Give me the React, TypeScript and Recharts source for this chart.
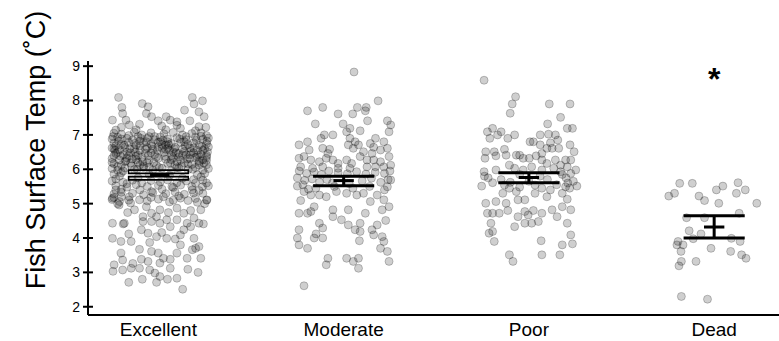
import { ScatterChart, Scatter, XAxis, YAxis, ReferenceLine, ReferenceArea } from "recharts";

const groups = ["Excellent", "Moderate", "Poor", "Dead"];
const yTicks = [2, 3, 4, 5, 6, 7, 8, 9];

// [jitter, temp]
const excellentPts: [number, number][] = [
    [-0.215, 8.09], [0.183, 8.09], [0.238, 7.99], [0.192, 7.9], [-0.197, 7.8], [-0.087, 7.91], [-0.056, 7.82], [0.141, 7.72],
    [0.219, 7.67], [0.247, 7.53], [-0.248, 7.43], [-0.193, 7.62], [-0.175, 7.43], [-0.065, 7.62], [-0.037, 7.53], [-0.001, 7.41],
    [0.042, 7.53], [0.064, 7.43], [0.1, 7.38], [0.17, 7.41], [0.219, 7.24], [0.256, 7.22], [-0.157, 7.29], [-0.102, 7.31],
    [0.119, 7.19], [0.018, 7.26], [-0.23, 7.14],
    [-0.24, 7.05], [-0.2, 7.02], [-0.13, 7.08], [-0.09, 7.0], [-0.04, 7.06], [0.03, 7.03], [0.08, 7.07], [0.13, 7.0], [0.18, 7.04], [0.23, 7.06], [0.26, 6.98],
    [-0.25, 6.88], [-0.22, 6.93], [-0.17, 6.9], [-0.14, 6.85], [-0.11, 6.95], [-0.06, 6.9], [-0.02, 6.86], [0.01, 6.94], [0.05, 6.88], [0.1, 6.92], [0.15, 6.86], [0.2, 6.93], [0.24, 6.87], [0.27, 6.91],
    [-0.24, 6.76], [-0.2, 6.72], [-0.16, 6.78], [-0.12, 6.7], [-0.08, 6.77], [-0.04, 6.73], [0.0, 6.79], [0.04, 6.71], [0.07, 6.75], [0.12, 6.78], [0.16, 6.72], [0.19, 6.77], [0.22, 6.7], [0.26, 6.74],
    [-0.25, 6.62], [-0.21, 6.57], [-0.18, 6.64], [-0.13, 6.6], [-0.1, 6.55], [-0.06, 6.63], [-0.03, 6.58], [0.02, 6.61], [0.06, 6.56], [0.09, 6.64], [0.13, 6.59], [0.17, 6.62], [0.21, 6.55], [0.25, 6.6], [0.27, 6.65],
    [-0.23, 6.46], [-0.19, 6.42], [-0.15, 6.48], [-0.11, 6.41], [-0.07, 6.47], [-0.02, 6.43], [0.03, 6.49], [0.07, 6.4], [0.11, 6.46], [0.15, 6.42], [0.19, 6.48], [0.23, 6.44], [0.26, 6.4],
    [-0.25, 6.31], [-0.21, 6.27], [-0.17, 6.33], [-0.12, 6.28], [-0.09, 6.35], [-0.05, 6.26], [0.0, 6.32], [0.04, 6.29], [0.08, 6.34], [0.12, 6.27], [0.17, 6.31], [0.21, 6.36], [0.24, 6.28],
    [-0.24, 6.16], [-0.2, 6.12], [-0.15, 6.18], [-0.1, 6.13], [-0.06, 6.19], [-0.01, 6.11], [0.05, 6.17], [0.09, 6.12], [0.14, 6.18], [0.18, 6.14], [0.22, 6.2], [0.26, 6.13],
    [-0.25, 6.02], [-0.22, 5.97], [-0.18, 6.04], [-0.13, 5.99], [-0.08, 6.05], [-0.03, 5.98], [0.02, 6.03], [0.07, 5.96], [0.11, 6.04], [0.16, 5.99], [0.2, 6.05], [0.24, 5.97], [0.27, 6.02],
    [-0.24, 5.86], [-0.21, 5.8], [-0.2, 5.9], [0.21, 5.84], [0.25, 5.88], [0.23, 5.78], [-0.05, 5.85], [0.06, 5.82],
    [-0.25, 5.66], [-0.19, 5.62], [-0.14, 5.68], [-0.09, 5.6], [-0.04, 5.67], [0.01, 5.63], [0.05, 5.69], [0.1, 5.61], [0.15, 5.66], [0.2, 5.6], [0.24, 5.68],
    [-0.23, 5.52], [-0.17, 5.48], [-0.12, 5.55], [-0.06, 5.5], [0.0, 5.53], [0.08, 5.47], [0.12, 5.54], [0.18, 5.5], [0.27, 5.52],
    [-0.24, 5.28], [-0.2, 5.33], [-0.14, 5.3], [-0.08, 5.26], [-0.03, 5.32], [0.04, 5.29], [0.09, 5.34], [0.14, 5.27], [0.19, 5.31], [0.24, 5.3],
    [-0.25, 5.12], [-0.21, 5.06], [-0.16, 5.1], [-0.06, 5.08], [0.0, 5.13], [0.06, 5.05], [0.16, 5.09], [0.21, 5.04], [0.26, 5.1],
    [-0.23, 6.68], [-0.22, 6.5], [-0.24, 6.4], [-0.05, 6.95], [-0.1, 6.82], [0.0, 6.65], [0.05, 6.8], [0.15, 6.95], [0.24, 6.55], [0.26, 6.35],
    [0.22, 6.25], [-0.18, 6.22], [-0.12, 6.38], [0.1, 6.22], [0.14, 6.52], [-0.16, 6.98], [-0.24, 5.18], [-0.22, 5.0], [0.25, 5.0], [-0.2, 5.42],
    // second pass over the darkest band
    [-0.245, 6.95], [-0.215, 6.82], [-0.185, 6.7], [-0.155, 6.6], [-0.125, 6.5], [-0.095, 6.9], [-0.065, 6.8], [-0.035, 6.68], [-0.005, 6.55], [0.025, 6.85],
    [0.055, 6.72], [0.085, 6.6], [0.115, 6.88], [0.145, 6.68], [0.175, 6.52], [0.205, 6.84], [0.235, 6.66], [0.262, 6.82], [-0.235, 6.55], [-0.205, 6.38],
    [-0.175, 6.25], [-0.145, 6.1], [-0.115, 6.0], [-0.085, 6.22], [-0.055, 6.4], [-0.025, 6.2], [0.005, 6.05], [0.035, 6.38], [0.065, 6.18], [0.095, 6.48],
    [0.125, 6.1], [0.155, 6.3], [0.185, 6.0], [0.215, 6.42], [0.245, 6.18], [0.265, 6.5], [-0.25, 6.2], [-0.22, 6.08], [-0.19, 5.95], [-0.16, 6.4],
    [-0.13, 6.75], [-0.1, 6.68], [-0.07, 6.58], [-0.04, 6.48], [-0.01, 6.36], [0.02, 6.72], [0.05, 6.62], [0.08, 6.5], [0.11, 6.36], [0.14, 6.8],
    [0.17, 6.42], [0.2, 6.34], [0.23, 6.96], [0.26, 6.26], [-0.24, 6.6], [-0.2, 6.88], [-0.17, 6.5], [-0.14, 6.3], [-0.11, 6.2], [-0.08, 6.1],
    [-0.05, 6.06], [-0.02, 6.95], [0.01, 6.8], [0.04, 6.58], [0.07, 6.28], [0.1, 6.05], [0.13, 6.42], [0.16, 6.15], [0.19, 6.62], [0.22, 6.12],
    [-0.23, 5.72], [-0.17, 5.58], [-0.11, 5.75], [0.13, 5.74], [0.19, 5.7], [0.26, 5.6], [-0.2, 5.2], [-0.1, 5.4], [0.02, 5.42], [0.11, 5.22],
    [0.2, 5.15], [-0.15, 5.02], [-0.04, 5.18], [0.08, 5.1], [0.22, 5.38], [-0.12, 7.15], [0.04, 7.15], [0.2, 7.12], [-0.2, 7.22], [0.1, 7.28],
    [-0.166, 4.74], [-0.129, 4.82], [-0.065, 4.91], [-0.037, 4.72], [0.008, 4.82], [0.054, 4.74], [0.1, 4.87], [0.137, 4.72], [0.174, 4.8],
    [0.229, 4.82], [0.262, 5.11], [-0.212, 4.96], [-0.248, 5.16], [-0.23, 5.4], [-0.157, 5.2], [-0.102, 5.11], [-0.037, 5.35], [0.027, 5.2],
    [0.073, 5.49], [0.119, 5.16], [0.183, 5.4], [0.238, 5.49],
    [-0.184, 4.43], [-0.083, 4.48], [-0.037, 4.48], [0.045, 4.53], [0.1, 4.53], [0.155, 4.43], [0.008, 4.43], [-0.083, 4.62], [-0.01, 4.62],
    [0.064, 4.33], [0.137, 4.24], [0.192, 4.58], [-0.248, 4.43], [-0.19, 4.41], [-0.248, 3.99], [-0.16, 4.12], [-0.202, 3.9], [-0.147, 3.9],
    [-0.102, 3.67], [-0.092, 4.24], [-0.056, 4.14], [-0.047, 3.87], [-0.01, 4.04], [0.018, 4.16], [0.045, 3.99], [0.091, 3.97], [0.119, 4.09],
    [0.174, 4.33], [0.219, 4.43], [0.243, 4.41], [0.192, 3.99], [0.219, 3.75], [0.229, 3.41], [0.201, 3.7], [-0.202, 3.56], [-0.239, 3.22],
    [-0.245, 3.03], [-0.193, 3.07], [-0.138, 3.26], [-0.147, 3.12], [-0.092, 3.38], [-0.056, 3.32], [-0.037, 3.61], [-0.001, 3.56], [0.027, 3.41],
    [0.064, 3.38], [0.1, 3.56], [0.119, 3.8], [0.155, 3.41], [0.183, 3.66], [-0.16, 2.71], [-0.087, 2.8], [-0.01, 2.71], [-0.019, 2.98],
    [0.049, 2.8], [0.1, 2.83], [0.131, 2.51], [0.159, 3.09], [0.214, 3.0], [-0.047, 3.07], [0.008, 2.88], [-0.102, 3.12], [0.008, 3.27],
    [0.064, 3.12], [-0.193, 3.36],
];

const moderatePts: [number, number][] = [
    [0.056, 8.83], [0.186, 7.99], [-0.195, 7.7], [-0.113, 7.8], [-0.03, 7.61], [0.049, 7.61], [0.074, 7.8], [0.122, 7.8], [0.117, 7.7],
    [0.129, 7.41], [-0.153, 7.32], [-0.003, 7.32], [0.034, 7.19], [0.016, 7.09], [0.089, 7.12], [0.236, 7.41], [0.254, 7.29], [0.245, 7.09],
    [-0.104, 7.0], [-0.058, 7.0], [-0.122, 6.9], [-0.195, 6.8], [-0.241, 6.71], [0.034, 6.9], [0.062, 6.8], [0.08, 6.71], [0.172, 6.9],
    [0.217, 6.8], [0.144, 6.75], [0.162, 6.64], [-0.186, 6.56], [-0.113, 6.61], [-0.076, 6.58], [-0.085, 6.46], [0.025, 6.71], [0.052, 6.61],
    [0.107, 6.51], [0.153, 6.46], [0.199, 6.56], [0.236, 6.61], [-0.241, 6.32], [-0.214, 6.37], [-0.177, 6.27], [-0.131, 6.22], [-0.094, 6.32],
    [-0.058, 6.27], [-0.03, 6.17], [0.016, 6.27], [0.043, 6.17], [0.089, 6.37], [0.126, 6.27], [0.162, 6.27], [0.199, 6.22], [0.245, 6.37],
    [-0.232, 6.07], [-0.168, 6.03], [-0.113, 6.07], [-0.03, 6.03], [0.034, 6.03], [0.126, 6.07], [0.172, 6.07], [0.217, 6.07], [0.254, 6.12],
    [-0.25, 5.51], [-0.214, 5.35], [-0.177, 5.25], [-0.131, 5.25], [-0.094, 5.2], [-0.039, 5.35], [0.016, 5.3], [0.071, 5.25], [0.107, 5.3],
    [0.144, 5.06], [0.181, 5.25], [0.236, 5.49], [0.254, 5.69], [0.217, 5.11], [-0.232, 5.09], [-0.241, 4.72], [-0.195, 4.72], [-0.159, 4.91],
    [-0.177, 4.77], [-0.058, 4.82], [-0.058, 4.62], [0.025, 4.82], [0.117, 4.72], [0.208, 4.82], [0.245, 4.91], [-0.012, 4.53], [0.025, 4.38],
    [0.089, 4.43], [-0.131, 4.43], [-0.113, 4.29], [0.062, 4.24], [0.089, 4.19], [0.153, 4.24], [0.181, 4.38], [0.227, 4.51], [0.162, 4.09],
    [0.208, 4.04], [-0.241, 4.24], [-0.25, 4.0], [-0.241, 3.8], [-0.195, 3.7], [-0.159, 4.0], [-0.113, 4.0], [-0.149, 4.12], [0.085, 3.92],
    [0.217, 3.9], [0.199, 3.7], [0.236, 3.61], [-0.085, 3.41], [-0.094, 3.22], [0.016, 3.41], [0.052, 3.32], [0.08, 3.41], [0.08, 3.12],
    [0.245, 3.32], [-0.214, 2.61],
    [-0.24, 5.95], [-0.2, 5.88], [-0.16, 5.92], [-0.12, 5.85], [-0.08, 5.95], [-0.03, 5.9], [0.02, 5.87], [0.07, 5.93], [0.12, 5.86],
    [0.17, 5.91], [0.22, 5.88], [0.25, 5.95], [-0.25, 5.75], [-0.21, 5.68], [-0.17, 5.72], [-0.13, 5.62], [-0.09, 5.7], [0.1, 5.66],
    [0.15, 5.74], [0.2, 5.62], [0.24, 5.7], [-0.22, 5.55], [-0.15, 5.45], [-0.05, 5.5], [0.05, 5.45], [0.14, 5.5], [0.22, 5.4],
    [-0.19, 5.42], [0.03, 5.58], [-0.06, 5.6],
];

const poorPts: [number, number][] = [
    [-0.242, 8.59], [-0.072, 8.11], [-0.09, 7.9], [-0.101, 7.63], [0.11, 7.9], [0.222, 7.9], [0.171, 7.51], [0.101, 7.32], [-0.196, 7.19],
    [-0.224, 7.09], [-0.15, 7.09], [-0.211, 6.9], [-0.169, 7.0], [-0.114, 6.9], [-0.077, 7.0], [0.061, 7.0], [0.106, 7.02], [0.143, 7.0],
    [0.156, 6.85], [0.207, 7.19], [0.235, 7.19], [0.006, 6.8], [0.024, 6.8], [0.061, 6.71], [0.116, 6.77], [0.125, 6.61], [0.161, 6.61],
    [0.097, 6.61], [0.222, 6.71], [0.244, 6.51], [-0.233, 6.51], [-0.237, 6.32], [-0.187, 6.51], [-0.178, 6.39], [-0.132, 6.58], [-0.123, 6.41],
    [-0.068, 6.41], [-0.05, 6.41], [-0.031, 6.32], [0.002, 6.32], [0.039, 6.39], [0.07, 6.46], [0.07, 6.27], [0.097, 6.17], [0.143, 6.27],
    [0.171, 6.12], [0.198, 6.27], [0.207, 6.07], [0.226, 6.27], [0.253, 5.98], [-0.242, 5.93], [-0.178, 5.98], [-0.105, 6.12], [-0.077, 6.03],
    [-0.031, 5.98], [0.015, 6.07], [0.07, 5.98], [0.134, 6.03], [0.171, 5.93], [0.226, 5.88],
    [-0.255, 5.51], [-0.196, 5.61], [-0.132, 5.54], [-0.105, 5.45], [-0.05, 5.48], [0.033, 5.54], [0.07, 5.45], [0.116, 5.4], [0.198, 5.49],
    [0.259, 5.51], [0.18, 5.3], [0.207, 5.13], [-0.233, 5.01], [-0.178, 5.06], [-0.123, 5.01], [-0.059, 5.11], [-0.022, 5.11], [0.033, 5.3],
    [0.097, 5.2], [-0.114, 4.8], [-0.022, 4.77], [0.024, 4.8], [0.07, 4.72], [0.125, 4.82], [0.18, 4.91], [0.226, 4.82], [-0.224, 4.72],
    [-0.196, 4.72], [-0.16, 4.72], [-0.059, 4.62], [-0.004, 4.67], [0.152, 4.62], [0.207, 4.43], [-0.205, 4.43], [-0.196, 4.19], [-0.215, 4.14],
    [-0.187, 3.9], [-0.077, 4.33], [-0.022, 4.43], [0.015, 4.43], [0.051, 4.48], [0.226, 4.09], [0.18, 3.8], [0.235, 3.83], [0.066, 3.92],
    [-0.105, 3.51], [-0.086, 3.32], [0.07, 3.51], [0.167, 3.51], [-0.141, 5.3], [-0.068, 5.35],
    [-0.22, 5.75], [-0.15, 5.7], [0.0, 5.65], [0.1, 5.7], [0.2, 5.75], [0.24, 5.65], [0.06, 5.8], [-0.05, 5.85], [0.18, 5.85],
    [0.21, 5.6], [-0.24, 5.8], [0.15, 5.55], [0.22, 5.45], [-0.1, 5.62],
];

const deadPts: [number, number][] = [
    [-0.186, 5.59], [-0.118, 5.59], [-0.214, 5.3], [-0.245, 5.22], [-0.082, 5.22], [-0.052, 5.09], [0.012, 5.4], [0.047, 5.51], [0.129, 5.61],
    [0.168, 5.4], [0.12, 5.3], [0.025, 5.01], [0.23, 5.01], [-0.149, 4.59], [-0.052, 4.59], [0.135, 4.72], [-0.135, 4.21], [-0.071, 4.12],
    [-0.113, 3.98], [0.093, 3.99], [0.14, 3.9], [-0.195, 3.9], [-0.201, 3.8], [-0.168, 3.8], [-0.179, 3.61], [-0.017, 3.7], [0.089, 3.61],
    [0.148, 3.51], [0.172, 3.41], [-0.098, 3.32], [-0.177, 3.32], [-0.19, 3.19], [-0.177, 2.3], [-0.036, 2.22],
];

const wideUpper = [5.93, 5.8, 5.9, 4.65];
const wideLower = [5.74, 5.52, 5.61, 4.0];
const means = [5.84, 5.67, 5.76, 4.32];
const starPos = [{ x: 4, y: 8.74 }];

const font = "'Liberation Sans', Arial, sans-serif";

const toPts = (pts: [number, number][], i: number) => pts.map(([dx, y]) => ({ x: i + 1 + dx, y }));
const allPts = [excellentPts, moderatePts, poorPts, deadPts];

const Dot = (props: any) => (
    <circle cx={props.cx} cy={props.cy} r={4} fill="#000" fillOpacity={0.19} stroke="#000" strokeOpacity={0.22} strokeWidth={1} />
);

const Star = (props: any) => (
    <text x={props.cx} y={props.cy + 15} textAnchor="middle" fontSize={32} fontWeight="bold" fontFamily={font}>*</text>
);

const YLabel = () => (
    <text x={45} y={150} transform="rotate(-90 45 150)" textAnchor="middle" fontSize={27} fontFamily={font} fill="#000">
        Fish Surface Temp (˚C)
    </text>
);

export default function App() {
    const W = 0.165;
    const N = 0.055;
    return (
        <div style={{ position: "absolute", left: 0, top: 0, background: "#fff" }}>
            <ScatterChart width={779} height={341} margin={{ top: 61, right: 0, bottom: 0, left: 28 }}>
                <XAxis
                    type="number"
                    dataKey="x"
                    domain={[0.62, 4.35]}
                    ticks={[1, 2, 3, 4]}
                    tickFormatter={(v) => groups[v - 1]}
                    allowDataOverflow
                    height={26}
                    tickLine={false}
                    tickMargin={2}
                    axisLine={{ stroke: "#000", strokeWidth: 2 }}
                    tick={{ fill: "#000", fontSize: 19, fontFamily: font }}
                />
                <YAxis
                    type="number"
                    dataKey="y"
                    domain={[1.76, 9.15]}
                    ticks={yTicks}
                    allowDataOverflow
                    width={60}
                    tickSize={5}
                    tickMargin={3}
                    axisLine={{ stroke: "#000", strokeWidth: 2 }}
                    tickLine={{ stroke: "#000", strokeWidth: 2 }}
                    tick={{ fill: "#000", fontSize: 14, fontFamily: font }}
                    label={{ content: YLabel }}
                />
                {allPts.map((pts, i) => (
                    <Scatter key={groups[i]} data={toPts(pts, i)} shape={Dot} isAnimationActive={false} />
                ))}
                {yTicks.map((t) => (
                    <ReferenceLine key={"t" + t} segment={[{ x: 0.62, y: t }, { x: 0.647, y: t }]} stroke="#000" strokeWidth={2} ifOverflow="visible" />
                ))}
                {groups.map((g, i) => {
                    const c = i + 1;
                    const sw = i === 0 ? 5 : 3;
                    return [
                        <ReferenceLine key={g + "u"} segment={[{ x: c - W, y: wideUpper[i] }, { x: c + W, y: wideUpper[i] }]} stroke="#000" strokeWidth={sw} />,
                        <ReferenceLine key={g + "l"} segment={[{ x: c - W, y: wideLower[i] }, { x: c + W, y: wideLower[i] }]} stroke="#000" strokeWidth={sw} />,
                        i === 0 ? <ReferenceLine key={g + "uw"} segment={[{ x: c - W + 0.008, y: wideUpper[i] }, { x: c + W - 0.008, y: wideUpper[i] }]} stroke="#fff" strokeWidth={1.5} /> : null,
                        i === 0 ? <ReferenceLine key={g + "lw"} segment={[{ x: c - W + 0.008, y: wideLower[i] }, { x: c + W - 0.008, y: wideLower[i] }]} stroke="#fff" strokeWidth={1.5} /> : null,
                        i === 0 ? (
                            <ReferenceArea key={g + "b"} x1={c - 0.045} x2={c + 0.06} y1={wideLower[i] - 0.04} y2={wideUpper[i] + 0.04} fill="#000" fillOpacity={1} stroke="none" />
                        ) : (
                            <ReferenceLine key={g + "v"} segment={[{ x: c, y: wideLower[i] }, { x: c, y: wideUpper[i] }]} stroke="#000" strokeWidth={3} />
                        ),
                        i === 0 ? null : (
                            <ReferenceLine key={g + "m"} segment={[{ x: c - N, y: means[i] }, { x: c + N, y: means[i] }]} stroke="#000" strokeWidth={3} />
                        ),
                    ];
                })}
                <Scatter data={starPos} shape={Star} isAnimationActive={false} />
            </ScatterChart>
        </div>
    );
}
